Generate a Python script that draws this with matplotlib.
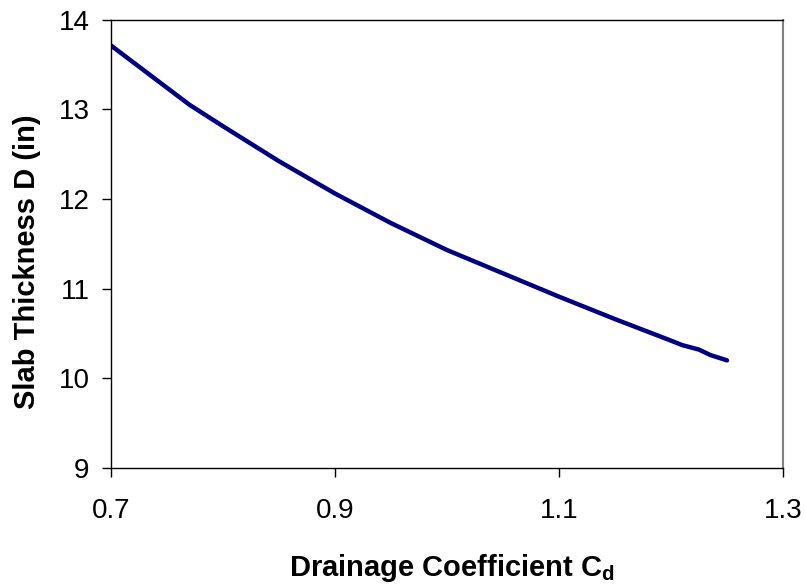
import matplotlib
matplotlib.use("Agg")
import matplotlib.pyplot as plt

plt.rcParams['font.family'] = ['Liberation Sans', 'DejaVu Sans']

cd = [0.70, 0.77, 0.80, 0.85, 0.90, 0.95, 1.00, 1.05, 1.10, 1.15, 1.20, 1.21, 1.225, 1.235, 1.25]
thickness = [13.71, 13.05, 12.81, 12.42, 12.06, 11.73, 11.43, 11.17, 10.91, 10.66, 10.42, 10.37, 10.32, 10.26, 10.20]
xticks = [0.7, 0.9, 1.1, 1.3]
yticks = [9, 10, 11, 12, 13, 14]

W, H = 805, 585
fig = plt.figure(figsize=(W/100, H/100), dpi=100)
ax = fig.add_axes([111/W, 1 - 468/H, (783-111)/W, (468-19.5)/H])
ax.plot(cd, thickness, color='#000080', lw=3.2, solid_capstyle='round', solid_joinstyle='round')
ax.set_xlim(0.7, 1.3)
ax.set_ylim(9, 14)
ax.set_xticks(xticks)
ax.set_xticklabels([f"{v:.1f}" for v in xticks])
ax.set_yticks(yticks)
ax.tick_params(axis='both', direction='out', length=6.5, width=1, labelsize=20, color='black')
ax.tick_params(axis='x', pad=15)
ax.tick_params(axis='y', pad=9)
ax.spines['right'].set_color('#808080')
ax.spines['right'].set_linewidth(1.5)
for s in ['left', 'bottom', 'top']:
    ax.spines[s].set_color('black')
    ax.spines[s].set_linewidth(1)
fig.text(452/W, 1 - 576/H, 'Drainage Coefficient C$_\\mathregular{d}$', fontsize=21,
         fontweight='bold', ha='center', va='baseline')
fig.text(27/W, 1 - 262/H, 'Slab Thickness D (in)', fontsize=21, fontweight='bold',
         ha='center', va='center', rotation=90)
fig.savefig('out.png', dpi=100)
